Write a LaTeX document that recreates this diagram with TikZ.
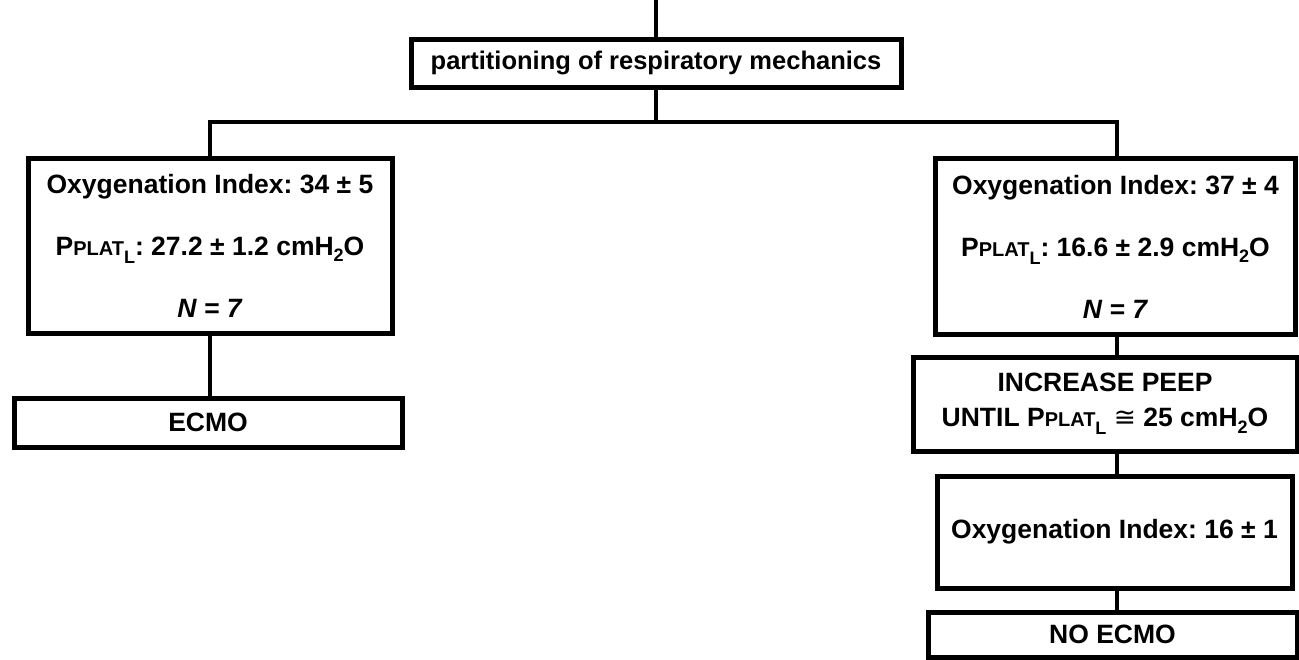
\documentclass[tikz,border=0pt]{standalone}
\usepackage{fontspec}
\setmainfont{Liberation Sans}
\newfontfamily\symfont{DejaVu Sans}
\frenchspacing
\newcommand{\pplatL}{P{\fontsize{20}{20}\selectfont PLAT}\raisebox{-0.3em}{\fontsize{18}{18}\selectfont L}}
\newcommand{\htwoo}{H\raisebox{-0.25em}{\fontsize{18}{18}\selectfont 2}O}
\tikzset{
  box/.style={draw=black, line width=5pt, fill=white, inner sep=0pt, align=center,
    font=\fontsize{26.5}{62}\selectfont\bfseries},
  conn/.style={draw=black, line width=4pt},
  tight/.style={font=\fontsize{26.5}{35}\selectfont\bfseries},
  title/.style={font=\fontsize{25.5}{30}\selectfont\bfseries}
}
\begin{document}
\begin{tikzpicture}[x=1pt,y=-1pt]
\useasboundingbox (0,0) rectangle (1299,659);
\coordinate (top) at (656,0);
\coordinate (hj) at (656,122);
\node[box, title, minimum width=490pt, minimum height=48pt] (pm) at (656,63) {partitioning of respiratory mechanics};
\node[box, minimum width=364pt, minimum height=175pt] (left) at (210,245.5)
  {Oxygenation Index: 34 ± 5\\ \pplatL: 27.2 ± 1.2 cm\htwoo\\ \textit{N = 7}};
\node[box, minimum width=388pt, minimum height=49pt] (ecmo) at (208,422.5) {ECMO};
\node[box, minimum width=360pt, minimum height=176pt] (right) at (1115.5,246.5)
  {Oxygenation Index: 37 ± 4\\ \pplatL: 16.6 ± 2.9 cm\htwoo\\ \textit{N = 7}};
\node[box, tight, minimum width=384pt, minimum height=94pt] (inc) at (1105,404)
  {INCREASE PEEP\\ UNTIL \pplatL\ {\symfont\mdseries ≅} 25 cm\htwoo};
\node[box, minimum width=355pt, minimum height=112pt] (oxy) at (1114.5,532) {Oxygenation Index: 16 ± 1};
\node[box, minimum width=369pt, minimum height=45pt] (noecmo) at (1112.5,634.5) {NO ECMO};
\draw[conn] (top) -- (pm.north);
\draw[conn] (pm.south) -- (hj);
\draw[conn] (hj) -| (left.north);
\draw[conn] (hj) -| ([xshift=1.5pt]right.north);
\draw[conn] (left.south) -- (left.south |- ecmo.north);
\draw[conn] ([xshift=1.5pt]right.south) -- ([xshift=1.5pt]right.south |- inc.north);
\draw[conn] ([xshift=1.5pt]right.south |- inc.south) -- ([xshift=1.5pt]right.south |- oxy.north);
\draw[conn] ([xshift=1.5pt]right.south |- oxy.south) -- ([xshift=1.5pt]right.south |- noecmo.north);
\end{tikzpicture}
\end{document}
